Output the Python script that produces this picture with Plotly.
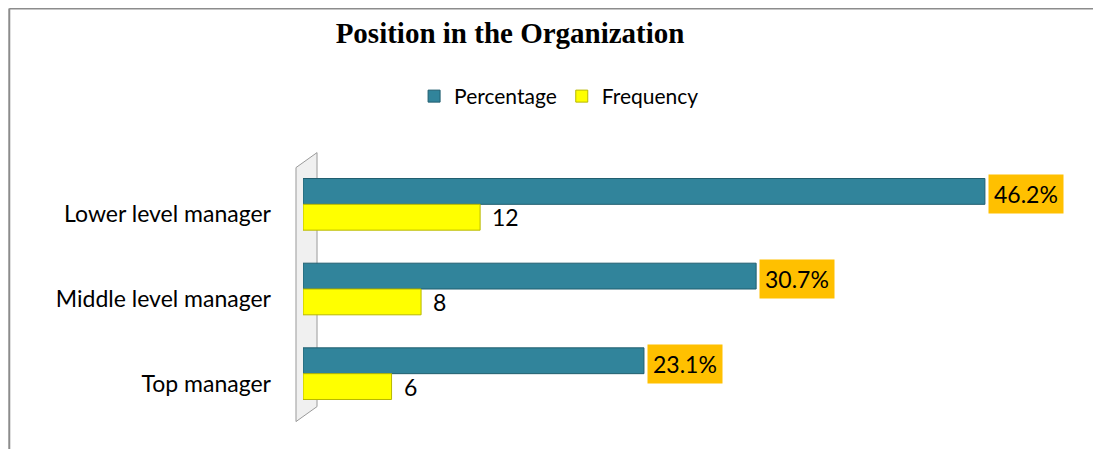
import plotly.graph_objects as go

categories = ["Lower level manager", "Middle level manager", "Top manager"]
percentage = [46.2, 30.7, 23.1]
frequency = [12, 8, 6]

TEAL = "#31849B"
YELLOW = "#FFFF00"
LABEL_BG = "#FFC000"
FONT = "Lato, 'Open Sans', sans-serif"

fig = go.Figure()
fig.add_trace(
    go.Bar(
        y=categories,
        x=percentage,
        orientation="h",
        name="Percentage",
        marker=dict(color=TEAL, line=dict(color="#215E6F", width=1)),
    )
)
fig.add_trace(
    go.Bar(
        y=categories,
        x=frequency,
        orientation="h",
        name="Frequency",
        marker=dict(color=YELLOW, line=dict(color="#B8B800", width=1)),
    )
)

# percentage labels with the orange box
for cat, val in zip(categories, percentage):
    fig.add_annotation(
        x=val, y=cat, text=f"{val:.1f}%", showarrow=False,
        xanchor="left", yanchor="middle", xshift=3, yshift=10,
        bgcolor=LABEL_BG, borderpad=5,
        font=dict(size=23, color="black", family=FONT),
    )
# frequency labels
for cat, val in zip(categories, frequency):
    fig.add_annotation(
        x=val, y=cat, text=str(val), showarrow=False,
        xanchor="left", yanchor="middle", xshift=10, yshift=-13,
        font=dict(size=23, color="black", family=FONT),
    )

# back wall (decorative)
fig.add_shape(
    type="path", xref="paper", yref="paper",
    path="M -0.0095 -0.022 L 0.019 0.037 L 0.019 1.037 L -0.0095 0.978 Z",
    fillcolor="#F0F0F0", line=dict(color="#9A9A9A", width=1), layer="below",
)
# outer frame lines (top and left only)
fig.add_shape(type="line", xref="paper", yref="paper", x0=-0.398, x1=1.2, y0=1.604, y1=1.604,
              line=dict(color="#8C8C8C", width=2))
fig.add_shape(type="line", xref="paper", yref="paper", x0=-0.398, x1=-0.398, y0=-0.2, y1=1.604,
              line=dict(color="#8C8C8C", width=2))

fig.update_layout(
    width=1101,
    height=449,
    margin=dict(l=295, r=68, t=154, b=41),
    paper_bgcolor="white",
    plot_bgcolor="rgba(0,0,0,0)",
    barmode="group",
    bargap=0.39,
    bargroupgap=0,
    title=dict(
        text="<b>Position in the Organization</b>",
        x=0.456, xanchor="center", y=0.944, yanchor="middle",
        font=dict(family="'Liberation Serif', 'Times New Roman', serif", size=29, color="black"),
    ),
    legend=dict(
        orientation="h", x=0.347, xanchor="center", y=1.258, yanchor="middle",
        font=dict(size=21, family=FONT, color="black"),
        itemwidth=30,
    ),
    font=dict(family=FONT, color="black"),
    showlegend=True,
)
fig.update_xaxes(range=[0, 50], visible=False)
fig.update_yaxes(
    autorange="reversed",
    showgrid=False,
    showline=False,
    ticks="",
    ticklabelstandoff=31,
    ticklabelshift=-10,
    tickfont=dict(size=23, family=FONT, color="black"),
)

fig.write_html("out.html")
